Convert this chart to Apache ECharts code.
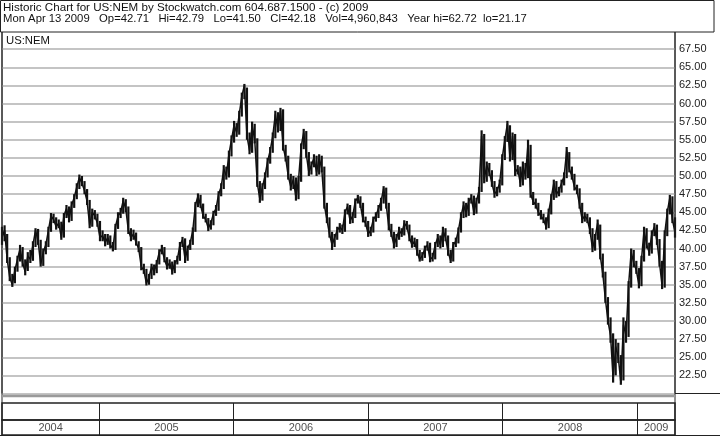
<!DOCTYPE html>
<html>
<head>
<meta charset="utf-8">
<script src="https://cdn.jsdelivr.net/npm/echarts/dist/echarts.min.js"></script>
<style>
html,body{margin:0;padding:0;background:#fff;}
#chart{width:720px;height:439px;}
</style>
</head>
<body>
<div id="chart"></div>
<script>
// ---- data (weekly values, Apr 12 2004 .. Apr 13 2009) ----
const startDate = '2004-04-12';
const closes = [
41.5,42.5,38.5,36.0,35.0,37.0,38.5,40.0,38.0,36.8,
39.0,38.5,40.5,42.5,41.0,37.8,39.5,40.5,42.5,44.5,
44.0,43.0,43.5,41.5,44.5,45.5,44.0,46.0,47.0,48.5,
49.8,49.0,48.0,46.5,43.2,45.0,44.5,43.5,41.5,41.8,
40.8,41.5,40.5,40.0,43.0,44.5,45.0,46.6,45.5,42.5,
41.5,42.0,40.8,40.0,37.5,37.0,35.2,36.0,37.5,36.8,
38.0,39.5,40.0,38.5,37.5,38.0,36.8,38.0,38.5,40.5,
41.2,38.5,40.0,40.8,42.5,46.0,47.2,46.0,44.5,44.0,
42.8,43.5,44.8,45.5,47.5,48.5,51.0,50.0,53.0,55.0,
57.0,56.0,58.5,61.0,62.5,55.5,53.5,57.0,55.0,49.0,
46.8,48.5,50.0,52.0,53.5,55.5,58.5,56.5,59.0,54.0,
52.5,50.0,48.5,49.5,47.0,49.5,54.0,56.0,53.0,50.5,
51.5,52.5,50.5,52.5,51.0,46.0,44.0,42.0,40.5,41.5,
42.5,43.0,42.5,45.0,45.8,43.8,44.5,46.5,47.0,46.0,
44.0,43.5,42.0,42.5,44.0,44.5,45.5,46.5,48.3,46.0,
43.0,42.0,40.5,41.5,42.5,42.0,43.5,43.0,41.5,40.5,
41.0,39.5,38.5,39.0,40.0,40.5,38.5,38.8,40.5,41.5,
40.5,42.5,41.5,39.5,38.3,40.5,41.0,42.5,44.5,46.0,
44.8,46.5,47.0,45.0,46.5,48.0,55.5,49.5,51.5,50.5,
49.0,47.5,48.0,49.0,52.5,55.0,57.2,52.5,55.5,50.5,
51.0,49.0,51.5,50.0,54.5,47.5,46.5,46.0,45.0,44.5,
44.0,43.0,45.0,47.0,49.0,47.5,48.0,49.0,50.0,53.5,
51.0,50.0,48.5,48.0,46.0,44.0,44.5,44.0,42.5,40.0,
41.5,43.5,39.0,36.5,33.0,30.0,28.0,22.0,26.5,25.0,
21.5,29.5,28.0,35.0,39.5,38.0,37.0,35.0,38.5,42.5,
40.5,39.5,42.0,43.0,41.0,38.0,34.8,42.0,45.0,47.0,
44.0,42.2
];
const lows = [
40.5,41.0,38.0,35.5,34.7,35.2,36.8,38.2,37.5,36.3,
36.9,38.0,38.3,40.2,40.5,37.5,37.6,39.2,40.2,42.3,
43.5,42.6,42.8,41.2,41.5,44.2,43.6,43.8,45.6,46.8,
48.2,48.6,47.5,46.0,42.8,43.0,44.0,43.0,41.0,41.0,
40.3,40.5,40.0,39.6,39.8,42.7,44.2,44.8,45.0,42.0,
41.0,41.2,40.4,39.5,37.0,36.5,34.9,35.0,35.8,36.3,
36.6,37.8,39.2,38.1,37.1,37.2,36.4,36.6,37.8,38.3,
40.2,38.0,38.3,39.8,40.5,42.3,45.7,45.6,44.1,43.6,
42.4,42.6,43.2,44.5,45.2,47.2,48.2,49.5,49.8,52.7,
54.6,55.4,55.7,58.2,60.6,55.0,53.0,53.2,54.5,48.5,
46.3,46.6,48.2,49.8,51.7,53.2,55.2,56.0,56.2,53.5,
52.0,49.5,48.0,48.2,46.6,46.8,49.2,53.7,52.5,50.0,
50.2,51.2,50.0,50.2,50.5,45.5,43.5,41.5,39.8,40.2,
41.2,42.2,42.0,42.3,44.7,43.4,43.5,44.2,46.2,45.6,
43.6,43.0,41.6,41.7,42.2,43.7,44.2,45.2,46.2,45.5,
42.5,41.6,40.0,40.2,41.2,41.6,41.8,42.6,41.0,40.1,
40.2,39.0,38.2,38.3,38.7,39.7,38.1,38.2,38.5,40.2,
40.0,40.2,41.0,39.0,38.0,38.2,40.2,40.7,42.2,44.2,
44.3,44.5,46.2,44.6,44.8,46.2,47.8,49.0,49.2,50.0,
48.5,47.0,47.2,47.7,48.7,52.2,54.7,52.0,52.2,50.0,
50.2,48.5,48.7,49.5,49.7,47.0,46.0,45.5,44.5,44.0,
43.5,42.6,42.8,44.7,46.7,47.0,47.2,47.7,48.7,49.7,
50.5,49.5,48.0,47.5,45.5,43.5,43.7,43.5,42.0,39.5,
39.7,41.2,38.5,36.0,32.5,29.5,27.0,21.5,22.5,24.2,
21.2,21.8,27.0,27.8,34.6,37.4,36.5,34.5,34.8,38.2,
40.0,39.0,39.3,41.7,40.5,37.5,34.4,34.6,41.7,44.7,
43.5,41.5
];
const highs = [
43.0,43.2,42.0,38.8,36.5,37.5,39.0,40.5,40.2,38.5,
39.5,39.8,41.0,42.8,42.7,41.2,40.0,41.0,43.0,44.9,
44.8,44.3,44.0,43.7,44.9,46.0,45.8,46.5,47.5,49.0,
50.2,50.0,49.3,48.2,46.7,45.5,45.3,44.8,43.8,42.5,
42.0,42.0,41.8,40.9,43.4,45.0,45.6,47.0,46.8,45.8,
42.8,42.6,42.2,41.0,40.2,37.9,37.2,36.5,37.9,37.8,
38.4,39.9,40.5,40.2,38.8,38.5,38.2,38.4,39.0,40.9,
41.6,41.4,40.4,41.2,42.9,46.4,47.6,47.4,46.2,44.8,
44.2,43.9,45.2,46.0,47.9,49.0,51.5,51.3,53.5,55.6,
57.6,57.3,59.0,61.5,62.7,62.2,56.0,57.5,57.2,55.2,
49.3,49.0,50.5,52.5,54.0,56.0,59.0,58.8,59.4,59.2,
54.3,52.8,50.3,50.0,49.8,50.0,54.5,56.5,56.2,53.3,
52.0,53.0,52.8,53.0,52.8,51.3,46.3,44.3,42.3,42.0,
43.0,43.5,43.3,45.4,46.2,46.0,45.0,46.9,47.4,47.2,
46.3,44.4,43.8,43.0,44.4,45.0,46.0,47.0,48.6,48.4,
46.3,43.4,42.3,42.0,43.0,42.8,43.9,43.8,43.3,41.8,
41.5,41.3,39.8,39.5,40.4,41.0,40.8,39.4,40.9,42.0,
41.8,43.0,42.8,41.8,39.8,40.9,41.5,42.9,45.0,46.5,
46.3,47.0,47.5,47.3,47.0,48.5,56.3,55.8,52.0,51.8,
50.8,49.3,48.5,49.5,53.0,55.5,57.6,57.0,56.0,55.8,
51.5,51.3,52.0,51.8,55.0,54.3,47.8,46.9,46.3,45.3,
44.8,44.3,45.5,47.5,49.5,49.3,48.5,49.5,50.5,54.0,
53.3,51.3,50.3,48.8,48.3,46.3,45.0,44.8,44.3,42.8,
42.0,44.0,43.3,39.3,36.8,33.3,30.5,28.3,27.5,27.0,
25.3,30.5,30.0,35.5,40.0,39.8,38.3,37.3,39.0,43.0,
42.8,40.8,42.5,43.5,43.3,41.3,38.3,42.5,45.5,47.4,
47.2,44.3
];
const years = ['2004','2005','2006','2007','2008','2009'];
const yMin = 20, yMax = 70, yStep = 2.5;
const headerLine1 = 'Historic Chart for US:NEM by Stockwatch.com 604.687.1500 - (c) 2009';
const headerLine2 = 'Mon Apr 13 2009   Op=42.71   Hi=42.79   Lo=41.50   Cl=42.18   Vol=4,960,843   Year hi=62.72  lo=21.17';
const symbolName = 'US:NEM';

// ---- build ----
const DAY = 86400000;
const s = startDate.split('-').map(Number);
const t0 = Date.UTC(s[0], s[1]-1, s[2]);
const times = closes.map((v, i) => t0 + i*7*DAY);
const closeData = closes.map((v, i) => [times[i], v]);
const rangeData = closes.map((v, i) => [times[i], lows[i], highs[i]]);
const tEnd = times[times.length-1];
const yearStarts = years.map(y => Date.UTC(+y, 0, 1));
const boundaries = yearStarts.slice(1);
const yearMids = years.map((y, i) => {
  const a = Math.max(yearStarts[i], t0);
  const b = i + 1 < years.length ? Math.min(yearStarts[i+1], tEnd) : tEnd;
  return [(a + b) / 2, 0.5, y];
});

const FONT = '"Liberation Sans", Arial, sans-serif';
const chart = echarts.init(document.getElementById('chart'), null, {renderer: 'canvas'});

const L = 2, W = 673;
const timeAxis = (gi) => ({
  type: 'time', gridIndex: gi, min: t0, max: tEnd,
  axisLine: {show: false}, axisTick: {show: false}, axisLabel: {show: false}, splitLine: {show: false}
});
const hiddenY = (gi) => ({
  type: 'value', gridIndex: gi, min: 0, max: 1,
  axisLine: {show: false}, axisTick: {show: false}, axisLabel: {show: false}, splitLine: {show: false}
});
const dividers = {
  silent: true, symbol: 'none', label: {show: false},
  lineStyle: {color: '#222', width: 1, type: 'solid'},
  data: boundaries.map(b => ({xAxis: b}))
};

const txt = (x, y, text, size) => ({
  type: 'text', x: x, y: y, z: 100,
  style: {text: text, font: (size || 11.3) + 'px ' + FONT, fill: '#111', textVerticalAlign: 'middle'}
});
const line = (x1, y1, x2, y2, color, w) => ({
  type: 'line', z: 100, silent: true,
  shape: {x1: x1, y1: y1, x2: x2, y2: y2},
  style: {stroke: color || '#222', lineWidth: w || 1}
});

const graphics = [
  {type: 'rect', z: 90, shape: {x: 0.5, y: 0.5, width: 713.5, height: 31.5},
   style: {fill: '#fff', stroke: '#222', lineWidth: 1}},
  txt(3, 7.5, headerLine1, 11.6),
  txt(3, 18.5, headerLine2, 11.3),
  txt(6, 41, symbolName, 11.3),
  line(2, 32, 2, 435),
  line(675, 32, 675, 435),
  line(675, 393.5, 720, 393.5),
  line(0, 435.5, 720, 435.5),
  line(2, 396, 675, 396, '#9a9a9a', 2.5)
];

chart.setOption({
  animation: false,
  backgroundColor: '#fff',
  grid: [
    {left: L, top: 31, width: W, height: 362.5, show: true, borderColor: '#222', borderWidth: 1, backgroundColor: '#fff'},
    {left: L, top: 403, width: W, height: 17, show: true, borderColor: '#222', borderWidth: 1.5},
    {left: L, top: 420, width: W, height: 15, show: true, borderColor: '#222', borderWidth: 1.5}
  ],
  xAxis: [timeAxis(0), timeAxis(1), timeAxis(2)],
  yAxis: [
    {
      type: 'value', gridIndex: 0, position: 'right', min: yMin, max: yMax, interval: yStep,
      axisLine: {show: false}, axisTick: {show: false},
      axisLabel: {
        margin: 4, color: '#222', fontSize: 11, fontFamily: FONT,
        formatter: v => (v <= yMin || v >= yMax) ? '' : v.toFixed(2)
      },
      splitLine: {show: true, lineStyle: {color: '#c4c4c4', width: 2}}
    },
    hiddenY(1), hiddenY(2)
  ],
  series: [
    {
      type: 'custom', xAxisIndex: 0, yAxisIndex: 0, data: rangeData, z: 6, silent: true,
      encode: {x: 0, y: [1, 2]},
      renderItem: (params, api) => {
        const p1 = api.coord([api.value(0), api.value(1)]);
        const p2 = api.coord([api.value(0), api.value(2)]);
        return {type: 'line', shape: {x1: p1[0], y1: p1[1], x2: p2[0], y2: p2[1]},
                style: {stroke: '#111', lineWidth: 2.2}};
      }
    },
    {
      type: 'line', xAxisIndex: 0, yAxisIndex: 0, data: closeData,
      symbol: 'none', lineStyle: {color: '#111', width: 1.5}, z: 5
    },
    {
      type: 'scatter', xAxisIndex: 1, yAxisIndex: 1, data: yearMids, symbolSize: 0,
      silent: true, markLine: dividers
    },
    {
      type: 'scatter', xAxisIndex: 2, yAxisIndex: 2, data: yearMids, symbolSize: 0, silent: true,
      label: {show: true, position: 'inside', formatter: p => p.data[2], color: '#222', fontSize: 11, fontFamily: FONT},
      markLine: dividers
    }
  ],
  graphic: graphics
});
</script>
</body>
</html>
